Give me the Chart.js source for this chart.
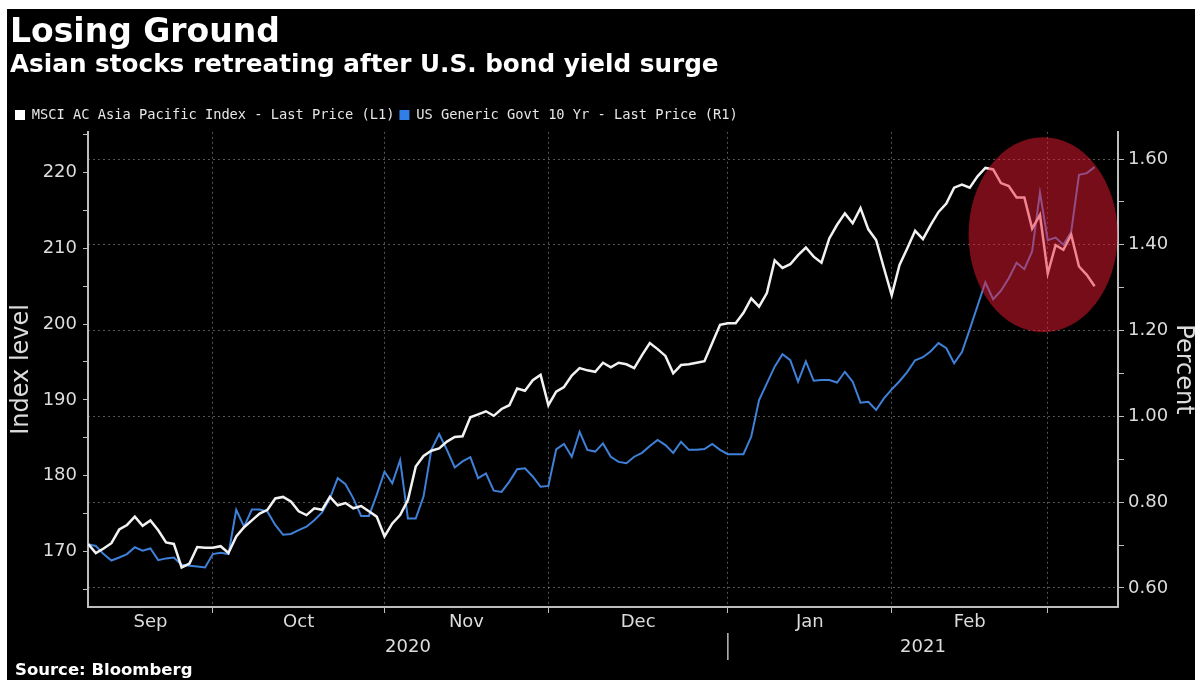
<!DOCTYPE html>
<html>
<head>
<meta charset="utf-8">
<title>Losing Ground</title>
<script src="https://cdn.jsdelivr.net/npm/chart.js@4.4.1/dist/chart.umd.min.js"></script>
<style>
  html, body { margin: 0; padding: 0; background: #fff; }
  #wrap { position: absolute; left: 7px; top: 9px; width: 1188px; height: 671px; background: #000; }
</style>
</head>
<body>
<div id="wrap"><canvas id="chart"></canvas></div>
<script>
// one value per weekday, first point is 9 Sep 2020
const startDate = '2020-09-09';
const months = ['Sep', 'Oct', 'Nov', 'Dec', 'Jan', 'Feb'];
const years = ['2020', '2021'];

// MSCI AC Asia Pacific Index (left axis)
const msci = [
  171.0, 169.8, 170.4, 171.1, 172.9, 173.5, 174.6, 173.4, 174.1, 172.8,
  171.2, 171.0, 167.9, 168.4, 170.6, 170.5, 170.5, 170.7, 169.8, 172.0,
  173.2, 174.1, 175.0, 175.5, 177.0, 177.2, 176.6, 175.3, 174.8, 175.7,
  175.5, 177.2, 176.1, 176.4, 175.7, 176.0, 175.3, 174.6, 172.0, 173.7,
  174.8, 176.8, 181.2, 182.6, 183.3, 183.6, 184.5, 185.1, 185.2, 187.7,
  188.1, 188.5, 187.9, 188.8, 189.3, 191.5, 191.2, 192.6, 193.3, 189.3,
  191.1, 191.7, 193.2, 194.2, 193.9, 193.7, 194.9, 194.3, 194.9, 194.7,
  194.2, 195.9, 197.5, 196.7, 195.8, 193.5, 194.6, 194.7, 194.9, 195.1,
  197.5, 199.9, 200.1, 200.1, 201.5, 203.4, 202.3, 204.1, 208.4, 207.4,
  207.9, 209.1, 210.1, 208.9, 208.1, 211.3, 213.1, 214.6, 213.3, 215.3,
  212.5, 211.1, 207.4, 203.8, 207.8, 210.0, 212.3, 211.2, 213.1, 214.8,
  215.9, 218.0, 218.4, 218.0, 219.5, 220.6, 220.4, 218.6, 218.2, 216.7,
  216.7, 212.6, 214.4, 206.7, 210.4, 209.8, 211.8, 207.6, 206.5, 205.0
];

// US Generic Govt 10 Yr yield, percent (right axis)
const yields = [
  0.702, 0.698, 0.679, 0.664, 0.671, 0.679, 0.695, 0.687, 0.692, 0.665,
  0.669, 0.671, 0.654, 0.652, 0.650, 0.648, 0.679, 0.682, 0.679, 0.782,
  0.743, 0.783, 0.783, 0.778, 0.747, 0.724, 0.726, 0.735, 0.743, 0.758,
  0.776, 0.809, 0.856, 0.842, 0.809, 0.768, 0.768, 0.817, 0.871, 0.844,
  0.898, 0.762, 0.762, 0.813, 0.922, 0.959, 0.922, 0.881, 0.895, 0.905,
  0.856, 0.867, 0.827, 0.824, 0.848, 0.877, 0.879, 0.860, 0.836, 0.838,
  0.923, 0.936, 0.906, 0.964, 0.922, 0.918, 0.937, 0.906, 0.894, 0.891,
  0.906, 0.915, 0.931, 0.945, 0.933, 0.915, 0.941, 0.922, 0.922, 0.924,
  0.936, 0.922, 0.912, 0.912, 0.912, 0.953, 1.038, 1.077, 1.116, 1.145,
  1.131, 1.081, 1.128, 1.083, 1.085, 1.085, 1.079, 1.104, 1.081, 1.032,
  1.034, 1.015, 1.042, 1.063, 1.082, 1.104, 1.131, 1.138, 1.152, 1.171,
  1.159, 1.124, 1.150, 1.203, 1.258, 1.312, 1.273, 1.293, 1.322, 1.358,
  1.343, 1.385, 1.522, 1.411, 1.417, 1.400, 1.430, 1.563, 1.567, 1.581
];

// weekday dates for the points
const dates = [];
let day = new Date(startDate + 'T00:00:00Z');
while (dates.length < msci.length) {
  const wd = day.getUTCDay();
  if (wd !== 0 && wd !== 6) dates.push(day.toISOString().slice(0, 10));
  day.setUTCDate(day.getUTCDate() + 1);
}

// first point of each new month / year
const monthStarts = [];
let yearStart = 0;
for (let i = 1; i < dates.length; i++) {
  if (dates[i].slice(5, 7) !== dates[i - 1].slice(5, 7)) monthStarts.push(i);
  if (dates[i].slice(0, 4) !== dates[i - 1].slice(0, 4)) yearStart = i;
}

const X_MAX = 132;
const axisGrey = '#bdbdbd';
const textGrey = '#dcdcdc';
const gridGrey = 'rgba(255,255,255,0.33)';

const bottomLabels = {
  id: 'bottomLabels',
  afterDatasetsDraw(chart) {
    const { ctx, scales: { x, y } } = chart;
    // red highlight over the late Feb / early Mar move
    const cx = x.getPixelForValue(122.4);
    const cy = y.getPixelForValue(211.8);
    const rx = x.getPixelForValue(122.4 + 9.55) - cx;
    const ry = y.getPixelForValue(211.8 - 12.86) - cy;
    ctx.save();
    ctx.fillStyle = 'rgba(235,25,50,0.5)';
    ctx.beginPath();
    ctx.ellipse(cx, cy, rx, ry, 0, 0, Math.PI * 2);
    ctx.fill();
    ctx.restore();
  },
  afterDraw(chart) {
    const { ctx, chartArea, scales: { x } } = chart;
    const bounds = [0].concat(monthStarts);
    ctx.save();
    ctx.fillStyle = textGrey;
    ctx.textAlign = 'center';
    ctx.textBaseline = 'middle';
    ctx.font = '18px "DejaVu Sans"';
    months.forEach((m, i) => {
      const mid = (bounds[i] + bounds[i + 1]) / 2;
      ctx.fillText(m, x.getPixelForValue(mid), chartArea.bottom + 15);
    });
    const yb = [0, yearStart, X_MAX];
    years.forEach((yr, i) => {
      ctx.fillText(yr, x.getPixelForValue((yb[i] + yb[i + 1]) / 2), chartArea.bottom + 40);
    });
    // year separator
    const sx = x.getPixelForValue(yearStart);
    ctx.strokeStyle = axisGrey;
    ctx.lineWidth = 1.5;
    ctx.beginPath();
    ctx.moveTo(sx, chartArea.bottom + 26);
    ctx.lineTo(sx, chartArea.bottom + 53);
    ctx.stroke();

    ctx.textAlign = 'left';
    ctx.fillStyle = '#fff';
    ctx.font = 'bold 16.5px "DejaVu Sans"';
    ctx.fillText('Source: Bloomberg', 8, 662);
    ctx.restore();
  }
};

Chart.defaults.font.family = '"DejaVu Sans", sans-serif';
Chart.defaults.color = textGrey;

const isStep = (v, step) => Math.abs(v / step - Math.round(v / step)) < 1e-6;

new Chart(document.getElementById('chart'), {
  type: 'line',
  data: {
    datasets: [
      {
        label: 'MSCI AC Asia Pacific Index - Last Price (L1)',
        data: msci.map((v, i) => ({ x: i, y: v })),
        yAxisID: 'y',
        borderColor: '#f2f2f2',
        backgroundColor: '#ffffff',
        borderWidth: 2.5
      },
      {
        label: 'US Generic Govt 10 Yr - Last Price (R1)',
        data: yields.map((v, i) => ({ x: i, y: v })),
        yAxisID: 'y1',
        borderColor: '#3f80d8',
        backgroundColor: '#2f7fe6',
        borderWidth: 2
      }
    ]
  },
  options: {
    responsive: true,
    maintainAspectRatio: false,
    animation: false,
    events: [],
    elements: { point: { radius: 0 }, line: { tension: 0 } },
    layout: { padding: { left: 3, right: 0, top: 0, bottom: 0 } },
    plugins: {
      tooltip: { enabled: false },
      title: {
        display: true,
        text: 'Losing Ground',
        align: 'start',
        color: '#fff',
        font: { size: 33, weight: 'bold' },
        padding: { top: 5, bottom: 0 }
      },
      subtitle: {
        display: true,
        text: 'Asian stocks retreating after U.S. bond yield surge',
        align: 'start',
        color: '#fff',
        font: { size: 24.7, weight: 'bold', lineHeight: 1 },
        padding: { top: 0, bottom: 24.85 }
      },
      legend: {
        position: 'top',
        align: 'start',
        labels: {
          color: '#e6e6e6',
          font: { family: '"DejaVu Sans Mono", monospace', size: 13.7 },
          boxWidth: 10,
          boxHeight: 10,
          padding: 5,
          generateLabels(chart) {
            const items = Chart.defaults.plugins.legend.labels.generateLabels(chart);
            items.forEach(it => { it.lineWidth = 0; });
            return items;
          }
        }
      }
    },
    scales: {
      x: {
        type: 'linear',
        min: 0,
        max: X_MAX,
        afterBuildTicks(s) { s.ticks = monthStarts.map(v => ({ value: v })); },
        afterFit(s) { s.height = 73; },
        ticks: { display: false },
        grid: { color: gridGrey, tickColor: axisGrey, tickLength: 6, lineWidth: 1 },
        border: { color: axisGrey, width: 2, dash: [2, 3] }
      },
      y: {
        position: 'left',
        min: 162.68,
        max: 225.36,
        afterBuildTicks(s) { s.ticks = s.ticks.filter(t => isStep(t.value, 5)); },
        afterFit(s) { s.width = 78; },
        ticks: {
          stepSize: 5,
          includeBounds: false,
          padding: 6,
          color: textGrey,
          font: { size: 18 },
          callback: v => (isStep(v, 10) ? Math.round(v) : '')
        },
        grid: { drawOnChartArea: false, tickColor: axisGrey, tickLength: 5 },
        border: { color: axisGrey, width: 2 },
        title: {
          display: true,
          text: 'Index level',
          color: textGrey,
          font: { size: 24, lineHeight: 1 },
          padding: 0
        }
      },
      y1: {
        position: 'right',
        min: 0.5557,
        max: 1.6633,
        afterBuildTicks(s) { s.ticks = s.ticks.filter(t => isStep(t.value, 0.1)); },
        afterFit(s) { s.width = 77; },
        ticks: {
          stepSize: 0.1,
          includeBounds: false,
          padding: 4,
          color: textGrey,
          font: { size: 18 },
          callback: v => (Math.round(v * 10) % 2 === 0 ? v.toFixed(2) : '')
        },
        grid: {
          drawOnChartArea: true,
          color: c => (c.tick && Math.round(c.tick.value * 10) % 2 === 0 ? gridGrey : 'transparent'),
          tickColor: axisGrey,
          tickLength: 6,
          lineWidth: 1
        },
        border: { color: axisGrey, width: 2, dash: [2, 3] },
        title: {
          display: true,
          text: 'Percent',
          color: textGrey,
          font: { size: 24, lineHeight: 1 },
          padding: 0
        }
      }
    }
  },
  plugins: [bottomLabels]
});
</script>
</body>
</html>
